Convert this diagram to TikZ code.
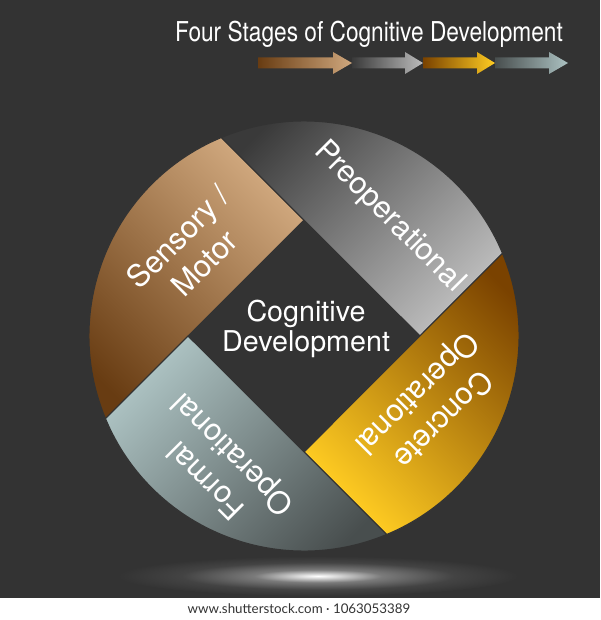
\documentclass[tikz,border=0pt]{standalone}
\usepackage{fontspec}
\setmainfont{TeX Gyre Heros}
\newfontfamily\titlefont{TeX Gyre Heros}[FakeStretch=0.83]
\newfontfamily\footfont{Lato}

\definecolor{bgdark}{RGB}{51,51,51}
\definecolor{tandark}{RGB}{104,60,18}
\definecolor{tanlight}{RGB}{208,168,126}
\definecolor{greydark}{RGB}{58,58,58}
\definecolor{greylight}{RGB}{188,188,188}
\definecolor{golddark}{RGB}{122,66,0}
\definecolor{goldlight}{RGB}{255,204,34}
\definecolor{slatedark}{RGB}{72,78,78}
\definecolor{slatelight}{RGB}{172,194,194}

\pgfdeclareradialshading{floorglow}{\pgfpointorigin}{color(0bp)=(white); color(2bp)=(white!85!bgdark); color(8bp)=(white!35!bgdark); color(17bp)=(white!8!bgdark); color(25bp)=(bgdark); color(50bp)=(bgdark)}

\begin{document}
\begin{tikzpicture}[x=0.75pt,y=0.75pt,yscale=-1,xscale=1,
  seglabel/.style={color=white, align=center, font=\fontsize{23}{28}\selectfont},
  segline/.style={draw=bgdark, line width=0.8pt}]
\useasboundingbox (0,0) rectangle (600,620);

%Shape: Rectangle [background]
\fill [bgdark] (0,0) rectangle (600,598);
%Shape: Rectangle [footer strip]
\fill [white] (0,598) rectangle (600,620);

%Shape: Ellipse [floor glow]
\path [shading=floorglow] (318,576) ellipse [x radius=200, y radius=20];

%Shape: Arc segment [Sensory / Motor]
\path [segline, left color=tandark, right color=tanlight, shading angle=135] (304,220) -- (105.5,418.6) arc [start angle=157.4, end angle=247.4, radius=215] -- cycle;
%Shape: Arc segment [Preoperational]
\path [segline, left color=greydark, right color=greylight, shading angle=45] (420,336) -- (221.4,137.5) arc [start angle=247.4, end angle=337.4, radius=215] -- cycle;
%Shape: Arc segment [Concrete Operational]
\path [segline, left color=goldlight, right color=golddark, shading angle=135] (304,452) -- (502.5,253.4) arc [start angle=-22.6, end angle=67.4, radius=215] -- cycle;
%Shape: Arc segment [Formal Operational]
\path [segline, left color=slatelight, right color=slatedark, shading angle=45] (188,336) -- (386.6,534.5) arc [start angle=67.4, end angle=157.4, radius=215] -- cycle;

%Shape: Right Arrow [4]
\path [left color=slatedark, right color=slatelight] (495,57.5) -- (549,57.5) -- (549,52) -- (568,63) -- (549,74) -- (549,68.5) -- (495,68.5) -- cycle;
%Shape: Right Arrow [3]
\path [left color=golddark, right color=goldlight] (423,57.5) -- (477,57.5) -- (477,52) -- (495,63) -- (477,74) -- (477,68.5) -- (423,68.5) -- cycle;
%Shape: Right Arrow [2]
\path [left color=greydark, right color=greylight] (352,57.5) -- (405,57.5) -- (405,52) -- (423,63) -- (405,74) -- (405,68.5) -- (352,68.5) -- cycle;
%Shape: Right Arrow [1]
\path [left color=tandark, right color=tanlight] (258,57.5) -- (333,57.5) -- (333,52) -- (352,63) -- (333,74) -- (333,68.5) -- (258,68.5) -- cycle;

% Text Node
\draw (369,42) node [anchor=base, color=white, font=\titlefont\fontsize{20.5}{24}\selectfont] (title) {Four Stages of Cognitive Development};
% Text Node
\draw (306,329) node [color=white, align=center, font=\fontsize{21.5}{22.5}\selectfont] (centre) {Cognitive\\Development};
% Text Node
\draw (191,250) node [seglabel, rotate=45] (sensory) {Sensory /\\Motor};
% Text Node
\draw (389,217) node [seglabel, rotate=-45] (preop) {Preoperational};
% Text Node
\draw (429,405) node [seglabel, rotate=-135] (concrete) {Concrete\\Operational};
% Text Node
\draw (221,466) node [seglabel, rotate=135] (formal) {Formal\\Operational};
% Text Node
\draw (299,609) node [color={rgb, 255:red, 51; green, 51; blue, 51 }, font=\footfont\fontsize{10}{12}\selectfont] (footer) {www.shutterstock.com · 1063053389};

\end{tikzpicture}
\end{document}
